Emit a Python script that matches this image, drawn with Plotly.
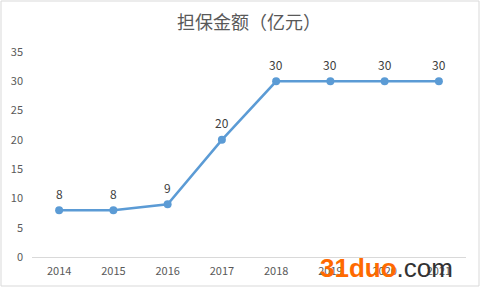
import plotly.graph_objects as go

years = ["2014", "2015", "2016", "2017", "2018", "2019", "2020", "2021"]
amounts = [8, 8, 9, 20, 30, 30, 30, 30]
y_ticks = [0, 5, 10, 15, 20, 25, 30, 35]
title_text = "担保金额（亿元）"

W, H = 481, 289
L, R, T, B = 32, 15, 52, 32
pw, ph = W - L - R, H - T - B

def px_x(p):
    return (p - L) / pw

def px_y(p):
    return (H - B - p) / ph

fig = go.Figure()
fig.add_trace(go.Scatter(
    x=years, y=amounts, mode="lines+markers",
    line=dict(color="#5b9bd5", width=2.5),
    marker=dict(color="#5b9bd5", size=8),
    cliponaxis=False, showlegend=False,
))

# category index positions of each year on the category axis
label_anns = [dict(x=i, y=v, xref="x", yref="y", text=str(v), showarrow=False,
                   yshift=17, yanchor="middle", font=dict(size=12, color="#404040"))
              for i, v in enumerate(amounts)]

fig.update_layout(
    width=W, height=H,
    margin=dict(l=L, r=R, t=T, b=B),
    paper_bgcolor="white", plot_bgcolor="white",
    font=dict(family="Noto Sans CJK SC, Noto Sans, sans-serif", color="#595959", size=11),
    title=dict(text=title_text, x=0.5, xref="paper", y=1 - 23 / H, yanchor="middle",
               font=dict(size=18, color="#595959")),
    xaxis=dict(type="category", range=[-0.5, 7.5], showgrid=False, showline=True,
               linecolor="#d9d9d9", linewidth=1, ticks="", tickfont=dict(size=11, color="#595959"),
               ticklabelstandoff=4, zeroline=False, fixedrange=True),
    yaxis=dict(range=[0, 35], tickvals=y_ticks, showgrid=False, showline=False, zeroline=False,
               ticks="", tickfont=dict(size=11, color="#595959"), ticklabelstandoff=8,
               fixedrange=True),
    shapes=[dict(type="rect", xref="paper", yref="paper",
                 x0=px_x(1), x1=px_x(479), y0=px_y(286), y1=px_y(1),
                 line=dict(color="#d9d9d9", width=1), fillcolor="rgba(0,0,0,0)", layer="below")],
    annotations=label_anns + [dict(xref="paper", yref="paper", x=px_x(318), y=px_y(268), xanchor="left",
                      yanchor="middle", showarrow=False,
                      text="<b><span style='color:#ff6a00'>31duo</span></b><span style='color:#333333'>.com</span>",
                      font=dict(size=26, family="Liberation Sans, Arial, sans-serif"))],
)

fig.write_html("out.html")
